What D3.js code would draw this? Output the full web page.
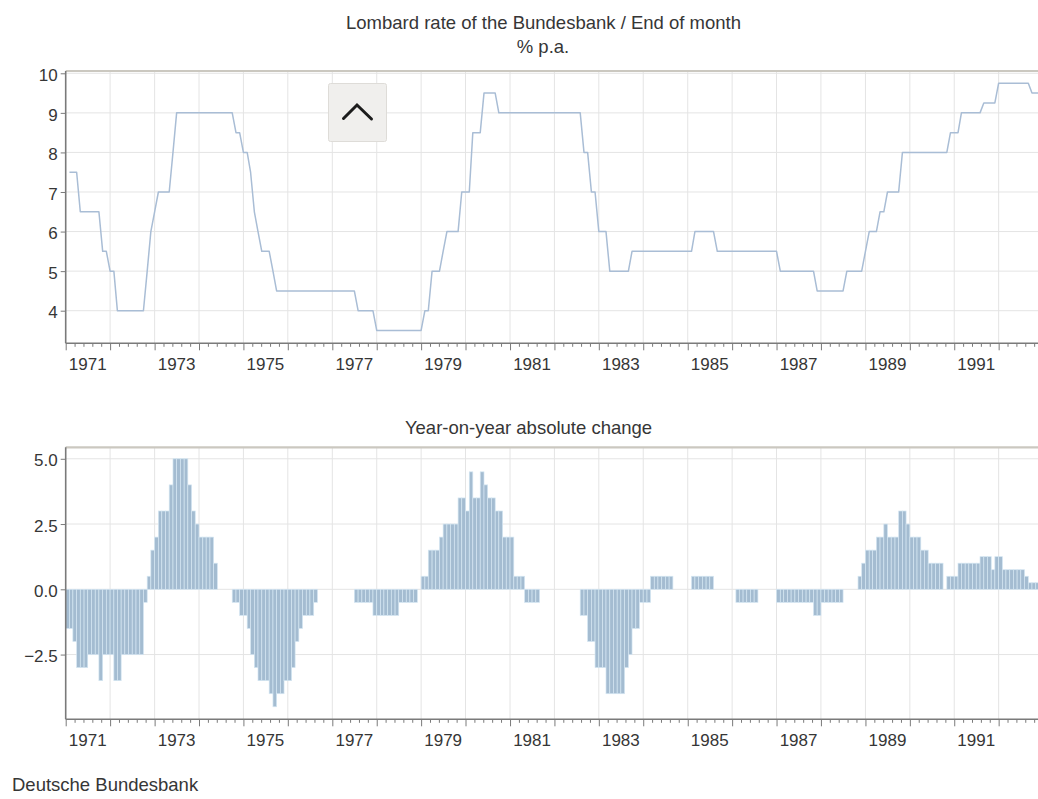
<!DOCTYPE html>
<html>
<head>
<meta charset="utf-8">
<script src="https://cdn.jsdelivr.net/npm/d3@7"></script>
<style>
  html, body { margin: 0; padding: 0; background: #ffffff; }
  svg { display: block; font-family: "Liberation Sans", Arial, Helvetica, sans-serif; }
</style>
</head>
<body>
<svg id="chart" width="1038" height="799"></svg>
<script>
// ---------------- DATA ----------------
const startYear = 1971;   // first month: January 1971 (end-of-month values)

// Lombard rate, % p.a., end of month, Jan 1971 – Nov 1992
const lombardRate = [
  7.5, 7.5, 7.5, 6.5, 6.5, 6.5, 6.5, 6.5, 6.5, 5.5, 5.5, 5.0,   // 1971
  5.0, 4.0, 4.0, 4.0, 4.0, 4.0, 4.0, 4.0, 4.0, 5.0, 6.0, 6.5,   // 1972
  7.0, 7.0, 7.0, 7.0, 8.0, 9.0, 9.0, 9.0, 9.0, 9.0, 9.0, 9.0,   // 1973
  9.0, 9.0, 9.0, 9.0, 9.0, 9.0, 9.0, 9.0, 9.0, 8.5, 8.5, 8.0,   // 1974
  8.0, 7.5, 6.5, 6.0, 5.5, 5.5, 5.5, 5.0, 4.5, 4.5, 4.5, 4.5,   // 1975
  4.5, 4.5, 4.5, 4.5, 4.5, 4.5, 4.5, 4.5, 4.5, 4.5, 4.5, 4.5,   // 1976
  4.5, 4.5, 4.5, 4.5, 4.5, 4.5, 4.0, 4.0, 4.0, 4.0, 4.0, 3.5,   // 1977
  3.5, 3.5, 3.5, 3.5, 3.5, 3.5, 3.5, 3.5, 3.5, 3.5, 3.5, 3.5,   // 1978
  4.0, 4.0, 5.0, 5.0, 5.0, 5.5, 6.0, 6.0, 6.0, 6.0, 7.0, 7.0,   // 1979
  7.0, 8.5, 8.5, 8.5, 9.5, 9.5, 9.5, 9.5, 9.0, 9.0, 9.0, 9.0,   // 1980
  9.0, 9.0, 9.0, 9.0, 9.0, 9.0, 9.0, 9.0, 9.0, 9.0, 9.0, 9.0,   // 1981
  9.0, 9.0, 9.0, 9.0, 9.0, 9.0, 9.0, 8.0, 8.0, 7.0, 7.0, 6.0,   // 1982
  6.0, 6.0, 5.0, 5.0, 5.0, 5.0, 5.0, 5.0, 5.5, 5.5, 5.5, 5.5,   // 1983
  5.5, 5.5, 5.5, 5.5, 5.5, 5.5, 5.5, 5.5, 5.5, 5.5, 5.5, 5.5,   // 1984
  5.5, 6.0, 6.0, 6.0, 6.0, 6.0, 6.0, 5.5, 5.5, 5.5, 5.5, 5.5,   // 1985
  5.5, 5.5, 5.5, 5.5, 5.5, 5.5, 5.5, 5.5, 5.5, 5.5, 5.5, 5.5,   // 1986
  5.0, 5.0, 5.0, 5.0, 5.0, 5.0, 5.0, 5.0, 5.0, 5.0, 4.5, 4.5,   // 1987
  4.5, 4.5, 4.5, 4.5, 4.5, 4.5, 5.0, 5.0, 5.0, 5.0, 5.0, 5.5,   // 1988
  6.0, 6.0, 6.0, 6.5, 6.5, 7.0, 7.0, 7.0, 7.0, 8.0, 8.0, 8.0,   // 1989
  8.0, 8.0, 8.0, 8.0, 8.0, 8.0, 8.0, 8.0, 8.0, 8.0, 8.5, 8.5,   // 1990
  8.5, 9.0, 9.0, 9.0, 9.0, 9.0, 9.0, 9.25, 9.25, 9.25, 9.25, 9.75, // 1991
  9.75, 9.75, 9.75, 9.75, 9.75, 9.75, 9.75, 9.75, 9.5, 9.5, 9.5    // 1992
];

// Year-on-year absolute change, percentage points, Jan 1971 – Nov 1992
const yoyChange = [
  -1.5, -1.5, -2.0, -3.0, -3.0, -3.0, -2.5, -2.5, -2.5, -3.5, -2.5, -2.5, // 1971
  -2.5, -3.5, -3.5, -2.5, -2.5, -2.5, -2.5, -2.5, -2.5, -0.5,  0.5,  1.5, // 1972
   2.0,  3.0,  3.0,  3.0,  4.0,  5.0,  5.0,  5.0,  5.0,  4.0,  3.0,  2.5, // 1973
   2.0,  2.0,  2.0,  2.0,  1.0,  0.0,  0.0,  0.0,  0.0, -0.5, -0.5, -1.0, // 1974
  -1.0, -1.5, -2.5, -3.0, -3.5, -3.5, -3.5, -4.0, -4.5, -4.0, -4.0, -3.5, // 1975
  -3.5, -3.0, -2.0, -1.5, -1.0, -1.0, -1.0, -0.5,  0.0,  0.0,  0.0,  0.0, // 1976
   0.0,  0.0,  0.0,  0.0,  0.0,  0.0, -0.5, -0.5, -0.5, -0.5, -0.5, -1.0, // 1977
  -1.0, -1.0, -1.0, -1.0, -1.0, -1.0, -0.5, -0.5, -0.5, -0.5, -0.5,  0.0, // 1978
   0.5,  0.5,  1.5,  1.5,  1.5,  2.0,  2.5,  2.5,  2.5,  2.5,  3.5,  3.5, // 1979
   3.0,  4.5,  3.5,  3.5,  4.5,  4.0,  3.5,  3.5,  3.0,  3.0,  2.0,  2.0, // 1980
   2.0,  0.5,  0.5,  0.5, -0.5, -0.5, -0.5, -0.5,  0.0,  0.0,  0.0,  0.0, // 1981
   0.0,  0.0,  0.0,  0.0,  0.0,  0.0,  0.0, -1.0, -1.0, -2.0, -2.0, -3.0, // 1982
  -3.0, -3.0, -4.0, -4.0, -4.0, -4.0, -4.0, -3.0, -2.5, -1.5, -1.5, -0.5, // 1983
  -0.5, -0.5,  0.5,  0.5,  0.5,  0.5,  0.5,  0.5,  0.0,  0.0,  0.0,  0.0, // 1984
   0.0,  0.5,  0.5,  0.5,  0.5,  0.5,  0.5,  0.0,  0.0,  0.0,  0.0,  0.0, // 1985
   0.0, -0.5, -0.5, -0.5, -0.5, -0.5, -0.5,  0.0,  0.0,  0.0,  0.0,  0.0, // 1986
  -0.5, -0.5, -0.5, -0.5, -0.5, -0.5, -0.5, -0.5, -0.5, -0.5, -1.0, -1.0, // 1987
  -0.5, -0.5, -0.5, -0.5, -0.5, -0.5,  0.0,  0.0,  0.0,  0.0,  0.5,  1.0, // 1988
   1.5,  1.5,  1.5,  2.0,  2.0,  2.5,  2.0,  2.0,  2.0,  3.0,  3.0,  2.5, // 1989
   2.0,  2.0,  2.0,  1.5,  1.5,  1.0,  1.0,  1.0,  1.0,  0.0,  0.5,  0.5, // 1990
   0.5,  1.0,  1.0,  1.0,  1.0,  1.0,  1.0,  1.25, 1.25, 1.25, 0.75, 1.25, // 1991
   1.25, 0.75, 0.75, 0.75, 0.75, 0.75, 0.75, 0.5, 0.25, 0.25, 0.25        // 1992
];

const topTicks = [4, 5, 6, 7, 8, 9, 10];
const bottomTicks = [-2.5, 0.0, 2.5, 5.0];
const labelYears = [1971, 1973, 1975, 1977, 1979, 1981, 1983, 1985, 1987, 1989, 1991];
const gridYears = d3.range(1971, 1993);

const titleTop = "Lombard rate of the Bundesbank / End of month";
const unitTop = "% p.a.";
const titleBottom = "Year-on-year absolute change";
const sourceText = "Deutsche Bundesbank";

// ---------------- LAYOUT ----------------
const plotLeft = 65.7, plotRight = 1038;
const svg = d3.select("#chart");

const x = d3.scaleTime()
  .domain([new Date(1971, 0, 1), new Date(1993, 0, 1)])
  .range([plotLeft, plotLeft + 22 * 44.43]);

const panelTop = { y0: 71, y1: 343.3 };
const panelBot = { y0: 447.3, y1: 719.3 };

const yTop = d3.scaleLinear().domain([3.176, 10.058]).range([panelTop.y1, panelTop.y0]);
const yBot = d3.scaleLinear().domain([-4.98, 5.44]).range([panelBot.y1, panelBot.y0]);

const monthStart = lombardRate.map((_, i) => new Date(startYear, i, 1));
const monthEnd = lombardRate.map((_, i) => new Date(startYear, i + 1, 1));

const gridColor = "#e4e4e4";
const axisColor = "#7a7a7a";
const textColor = "#363636";

const defs = svg.append("defs");
defs.append("clipPath").attr("id", "clipTop").append("rect")
  .attr("x", plotLeft).attr("y", panelTop.y0).attr("width", plotRight - plotLeft).attr("height", panelTop.y1 - panelTop.y0);
defs.append("clipPath").attr("id", "clipBot").append("rect")
  .attr("x", plotLeft).attr("y", panelBot.y0).attr("width", plotRight - plotLeft).attr("height", panelBot.y1 - panelBot.y0);

function panelFrame(panel, yScale, ticks) {
  const g = svg.append("g");
  g.selectAll("line.hg").data(ticks).join("line")
    .attr("x1", plotLeft).attr("x2", plotRight)
    .attr("y1", d => yScale(d)).attr("y2", d => yScale(d))
    .attr("stroke", gridColor).attr("stroke-width", 1);
  g.selectAll("line.vg").data(gridYears.slice(1)).join("line")
    .attr("x1", d => x(new Date(d, 0, 1))).attr("x2", d => x(new Date(d, 0, 1)))
    .attr("y1", panel.y0).attr("y2", panel.y1)
    .attr("stroke", gridColor).attr("stroke-width", 1);
  g.append("line")
    .attr("x1", plotLeft).attr("x2", plotRight)
    .attr("y1", panel.y0).attr("y2", panel.y0)
    .attr("stroke", "#cbc8c0").attr("stroke-width", 2.2);
  return g;
}

function panelAxes(panel, yScale, ticks, fmt) {
  const g = svg.append("g");
  const ya = d3.axisLeft(yScale).tickValues(ticks).tickFormat(fmt).tickSize(5).tickPadding(3);
  const yg = g.append("g").attr("transform", `translate(${plotLeft},0)`).call(ya);
  yg.select(".domain").remove();
  yg.selectAll(".tick line").attr("stroke", axisColor);
  yg.selectAll(".tick text").attr("fill", textColor).style("font-size", "17px")
    .attr("font-family", null).attr("dy", "0.42em");
  g.append("line").attr("x1", plotLeft).attr("x2", plotLeft)
    .attr("y1", panel.y0).attr("y2", panel.y1)
    .attr("stroke", axisColor).attr("stroke-width", 1.6);

  const xa = d3.axisBottom(x).tickValues(gridYears.map(yv => new Date(yv, 0, 1)))
    .tickFormat("").tickSize(7);
  const xg = g.append("g").attr("transform", `translate(0,${panel.y1})`).call(xa);
  xg.select(".domain").remove();
  xg.selectAll(".tick line").attr("stroke", axisColor);
  const minor = [];
  gridYears.forEach(yv => { for (let k = 1; k < 5; k++) minor.push(new Date(yv, 0, 1 + Math.round(k * 73))); });
  const xm = d3.axisBottom(x).tickValues(minor).tickFormat("").tickSize(3.5);
  const xmg = g.append("g").attr("transform", `translate(0,${panel.y1})`).call(xm);
  xmg.select(".domain").remove();
  xmg.selectAll(".tick line").attr("stroke", axisColor);
  xmg.selectAll(".tick").filter(d => x(d) > plotRight).remove();
  xg.selectAll(".tick").filter(d => x(d) > plotRight).remove();
  g.selectAll("text.yl").data(labelYears).join("text")
    .attr("x", d => x(new Date(d, 6, 1)))
    .attr("y", panel.y1 + 27)
    .attr("text-anchor", "middle")
    .attr("fill", textColor).style("font-size", "17px")
    .text(d => d);
  g.append("line").attr("x1", plotLeft).attr("x2", plotRight)
    .attr("y1", panel.y1).attr("y2", panel.y1)
    .attr("stroke", axisColor).attr("stroke-width", 1.6);
}

// ---------- top panel ----------
panelFrame(panelTop, yTop, topTicks);
const line = d3.line()
  .x((d, i) => x(monthEnd[i]))
  .y(d => yTop(d));
svg.append("path")
  .datum(lombardRate)
  .attr("clip-path", "url(#clipTop)")
  .attr("d", line)
  .attr("fill", "none")
  .attr("stroke", "#a9bdd5")
  .attr("stroke-width", 1.5)
  .attr("stroke-linejoin", "round");
panelAxes(panelTop, yTop, topTicks, d3.format("d"));

// ---------- bottom panel ----------
panelFrame(panelBot, yBot, bottomTicks);
svg.append("g").attr("clip-path", "url(#clipBot)")
  .selectAll("rect").data(yoyChange).join("rect")
  .attr("x", (d, i) => x(monthStart[i]))
  .attr("width", (d, i) => x(monthEnd[i]) - x(monthStart[i]))
  .attr("y", d => yBot(Math.max(0, d)))
  .attr("height", d => Math.abs(yBot(d) - yBot(0)))
  .attr("fill", "#a4bcd1")
  .attr("stroke", "#d4e6f2")
  .attr("stroke-width", 0.7);
panelAxes(panelBot, yBot, bottomTicks, d3.format(".1f"));

// ---------- texts ----------
svg.append("text").attr("x", 543.5).attr("y", 29).attr("text-anchor", "middle")
  .attr("fill", textColor).style("font-size", "18.5px").text(titleTop);
svg.append("text").attr("x", 543).attr("y", 52.5).attr("text-anchor", "middle")
  .attr("fill", textColor).style("font-size", "18.5px").text(unitTop);
svg.append("text").attr("x", 528.5).attr("y", 434).attr("text-anchor", "middle")
  .attr("fill", textColor).style("font-size", "18.5px").text(titleBottom);
svg.append("text").attr("x", 12).attr("y", 791).attr("text-anchor", "start")
  .attr("fill", textColor).style("font-size", "18.5px").text(sourceText);

// ---------- scroll-to-top button overlay ----------
const btn = svg.append("g");
btn.append("rect").attr("x", 328.5).attr("y", 83.5).attr("width", 58).attr("height", 58)
  .attr("rx", 2).attr("fill", "#f0efed").attr("stroke", "#dedcd8").attr("stroke-width", 1);
btn.append("polyline").attr("points", "343.5,118.5 357,105 371.5,119")
  .attr("fill", "none").attr("stroke", "#1c1c1c").attr("stroke-width", 3)
  .attr("stroke-linecap", "round").attr("stroke-linejoin", "miter");
</script>
</body>
</html>
